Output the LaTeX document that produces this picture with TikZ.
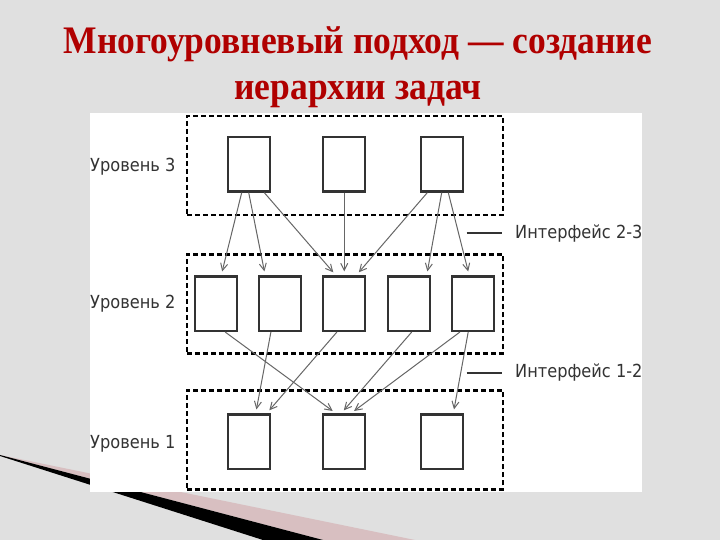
\documentclass[tikz,border=0pt]{standalone}
\usepackage{fontspec}
\usepackage{xcolor}
\usetikzlibrary{positioning,arrows.meta}
\setmainfont{Liberation Serif}
\newfontfamily\lvlfont[FakeStretch=0.9]{DejaVu Sans}
\newfontfamily\titlefont[FakeStretch=0.91]{Liberation Serif}

\definecolor{titlered}{HTML}{B00000}
\definecolor{slidegray}{HTML}{E0E0E0}
\definecolor{boxgray}{HTML}{333333}
\definecolor{flowgray}{HTML}{666666}
\definecolor{swooshpink}{HTML}{D8BFC1}

\begin{document}
\begin{tikzpicture}[x=1pt,y=1pt,>={Straight Barb[length=7pt,width=7pt]},node distance=96pt,
    task/.style={draw=boxgray,line width=2.2pt,fill=white,minimum width=42pt,minimum height=54.5pt,inner sep=0pt},
    frame/.style={draw=black,line width=2.2pt,dash pattern=on 5pt off 3pt,minimum width=316pt,minimum height=99pt,inner sep=0pt},
    lvl/.style={inner sep=0pt,anchor=base west,text=boxgray,font=\lvlfont\fontsize{18}{20}\selectfont},
    flow/.style={draw=flowgray,->,line width=1pt,shorten >=4pt}]

    % slide background and swoosh
    \fill[slidegray] (0,0) rectangle (720,540);
    \fill[swooshpink] (0,85) -- (415,0) -- (323,0) -- cycle;
    \fill[black] (0,85) -- (323,0) -- (263,0) -- (0,84) -- cycle;
    \fill[white] (90,48) rectangle (642,427);

    \node[font=\titlefont\bfseries\fontsize{39}{46}\selectfont,text=titlered,align=center] (title) at (358,473)
        {Многоуровневый подход — создание\\иерархии задач};

    % dashed level frames
    \node[frame] (f3) at (344.8,374.5) {};
    \node[frame] (f2) at (344.8,236) {};
    \node[frame] (f1) at (344.8,100) {};

    % tasks
    \node[task] (3a) at (248.7,375.7) {};
    \node[task] (3b) [right of = 3a, xshift=-0.5]{};
    \node[task] (3c) [right of = 3b, xshift=1.5]{};

    \node[task] (2c) [below of = 3b, yshift=-43.4]{};
    \node[task] (2b) [left of = 2c, xshift=32]{};
    \node[task] (2a) [left of = 2b, xshift=32]{};
    \node[task] (2d) [right of = 2c, xshift=-31.5]{};
    \node[task] (2e) [right of = 2d, xshift=-32]{};

    \node[task] (1b) [below of = 2c, yshift=-42]{};
    \node[task] (1a) [left of = 1b, xshift=0.5]{};
    \node[task] (1c) [right of = 1b, xshift=1.5]{};

    % labels
    \node[lvl] (t3) at (90,368.3) {Уровень 3};
    \node[lvl] (t2) at (90,231) {Уровень 2};
    \node[lvl] (t1) at (90,91.7) {Уровень 1};
    \node[lvl] (i23) at (515,301) {Интерфейс 2-3};
    \node[lvl] (i12) at (515,162) {Интерфейс 1-2};
    \draw[boxgray,line width=2.2pt] ([xshift=-48.3,yshift=6.3]i23.base west) -- ([xshift=-13.3,yshift=6.3]i23.base west);
    \draw[boxgray,line width=2.2pt] ([xshift=-48.3,yshift=5.3]i12.base west) -- ([xshift=-13.3,yshift=5.3]i12.base west);

    \path[every edge/.style={flow}]
        ([xshift=-7]3a.south) edge ([xshift=5]2a.north)
        (3a.south) edge ([xshift=-15]2b.north)
        ([xshift=15.6]3a.south) edge ([xshift=-8.3]2c.north)
        (3b.south) edge (2c.north)
        ([xshift=-14.4]3c.south) edge ([xshift=12]2c.north)
        (3c.south) edge ([xshift=18]2d.north)
        ([xshift=6.6]3c.south) edge ([xshift=-3.5]2e.north)
        ([xshift=9]2a.south) edge ([xshift=-8.3]1b.north)
        ([xshift=-9.3]2b.south) edge ([xshift=7]1a.north)
        ([xshift=-7.3]2c.south) edge ([xshift=18]1a.north)
        ([xshift=3]2d.south) edge ([xshift=-3]1b.north)
        ([xshift=-12.8]2e.south) edge ([xshift=6.7]1b.north)
        ([xshift=-4.5]2e.south) edge ([xshift=11.6]1c.north)
    ;
\end{tikzpicture}
\end{document}
